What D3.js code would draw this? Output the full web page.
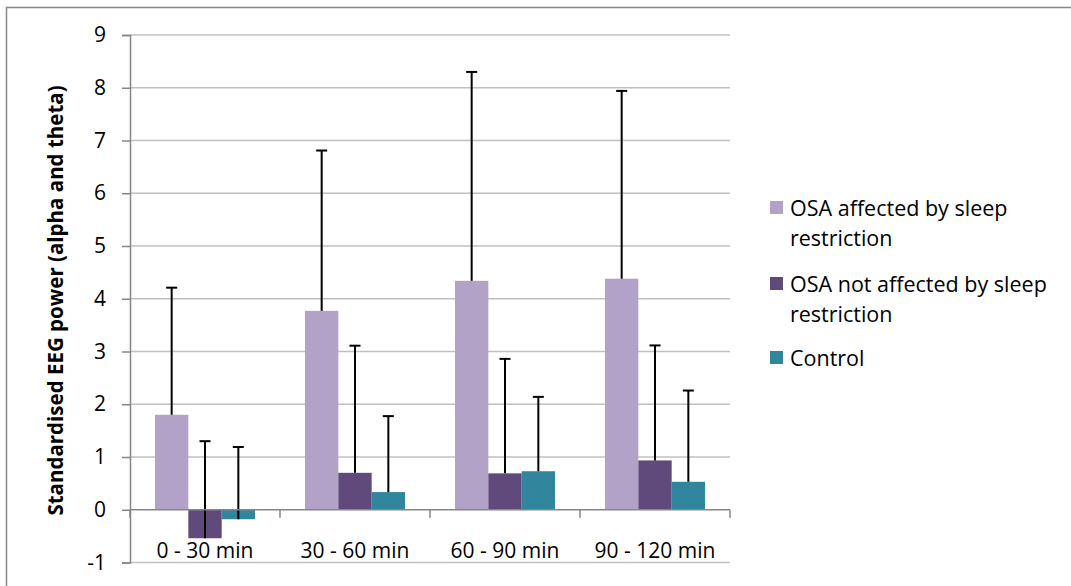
<!DOCTYPE html>
<html><head><meta charset="utf-8">
<script src="https://cdn.jsdelivr.net/npm/d3@7"></script>
<style>body{margin:0;background:#fff}svg{display:block}</style>
</head><body>
<script>
const categories = ["0 - 30 min", "30 - 60 min", "60 - 90 min", "90 - 120 min"];
const seriesNames = ["OSA affected by sleep restriction", "OSA not affected by sleep restriction", "Control"];
const osaAffected = [1.80, 3.77, 4.34, 4.38];
const osaNotAffected = [-0.54, 0.70, 0.69, 0.935];
const control = [-0.18, 0.335, 0.73, 0.53];
const errAffected = [2.41, 3.04, 3.96, 3.56];
const errNotAffected = [1.84, 2.41, 2.17, 2.18];
const errControl = [1.37, 1.44, 1.41, 1.73];
const yTicks = [-1, 0, 1, 2, 3, 4, 5, 6, 7, 8, 9];
const colors = ["#B3A2C7", "#604A7B", "#31859C"];

const series = [
  {name: seriesNames[0], values: osaAffected, errs: errAffected},
  {name: seriesNames[1], values: osaNotAffected, errs: errNotAffected},
  {name: seriesNames[2], values: control, errs: errControl}
];

const W = 1071, H = 586;
const svg = d3.select("body").append("svg").attr("width", W).attr("height", H);
const font = "'Open Sans', sans-serif";

// outer chart border
svg.append("rect").attr("x", 6.5).attr("y", 7.5).attr("width", W + 20).attr("height", H + 20)
  .attr("fill", "none").attr("stroke", "#868686").attr("stroke-width", 1.5);

const pLeft = 130, pRight = 730, pTop = 35, pBottom = 562.5;
const y = d3.scaleLinear().domain([-1, 9]).range([pBottom, pTop]);
const x0 = d3.scaleBand().domain(categories).range([pLeft, pRight]).paddingInner(0).paddingOuter(0);
const x1 = d3.scaleBand().domain(seriesNames).range([0, x0.bandwidth()]).paddingOuter(0.75).paddingInner(0);

// gridlines
svg.append("g").selectAll("line").data(yTicks.filter(d => d !== 0)).join("line")
  .attr("x1", pLeft).attr("x2", pRight).attr("y1", d => y(d)).attr("y2", d => y(d))
  .attr("stroke", "#C0C0C0").attr("stroke-width", 1.5);

// y axis
const yAxis = svg.append("g").attr("transform", `translate(${pLeft},0)`)
  .call(d3.axisLeft(y).tickValues(yTicks).tickSize(8).tickPadding(16).tickFormat(d => String(d)));
yAxis.select(".domain").attr("stroke", "#868686").attr("stroke-width", 1.5);
yAxis.selectAll(".tick line").attr("stroke", "#868686").attr("stroke-width", 1.5);
yAxis.selectAll(".tick text").attr("font-family", font).attr("font-size", 21).attr("fill", "#000");

// bars
const groups = svg.append("g").selectAll("g").data(categories).join("g")
  .attr("transform", d => `translate(${x0(d)},0)`);
groups.each(function(cat, ci) {
  const g = d3.select(this);
  series.forEach((s, si) => {
    const v = s.values[ci];
    g.append("rect")
      .attr("x", x1(s.name)).attr("width", x1.bandwidth())
      .attr("y", y(Math.max(0, v))).attr("height", Math.abs(y(v) - y(0)))
      .attr("fill", colors[si]);
  });
  series.forEach((s, si) => {
    const v = s.values[ci], e = s.errs[ci];
    const cx = x1(s.name) + x1.bandwidth() / 2;
    g.append("line").attr("x1", cx).attr("x2", cx).attr("y1", y(v)).attr("y2", y(v + e))
      .attr("stroke", "#000").attr("stroke-width", 2);
    g.append("line").attr("x1", cx - 5.5).attr("x2", cx + 5.5).attr("y1", y(v + e)).attr("y2", y(v + e))
      .attr("stroke", "#000").attr("stroke-width", 2);
  });
});

// x axis at zero
const xAxisG = svg.append("g").attr("transform", `translate(0,${y(0)})`);
xAxisG.append("line").attr("x1", pLeft).attr("x2", pRight).attr("stroke", "#868686").attr("stroke-width", 1.5);
const bounds = categories.map(c => x0(c)).concat([pRight]);
xAxisG.selectAll("line.tk").data(bounds).join("line").attr("class", "tk")
  .attr("x1", d => d).attr("x2", d => d).attr("y1", 0).attr("y2", 8)
  .attr("stroke", "#868686").attr("stroke-width", 1.5);
svg.append("g").selectAll("text").data(categories).join("text")
  .attr("x", d => x0(d) + x0.bandwidth() / 2).attr("y", 558)
  .attr("text-anchor", "middle").attr("font-family", font).attr("font-size", 21).attr("fill", "#000")
  .text(d => d);

// y title
svg.append("text").attr("transform", `translate(63,300.5) rotate(-90)`)
  .attr("text-anchor", "middle").attr("font-family", font).attr("font-weight", "bold")
  .attr("font-size", 20.5).attr("fill", "#000")
  .text("Standardised EEG power (alpha and theta)");

// legend
const legendLines = [["OSA affected by sleep", "restriction"], ["OSA not affected by sleep", "restriction"], ["Control"]];
const legendY = [208, 284, 358];
const lg = svg.append("g");
legendLines.forEach((lines, i) => {
  lg.append("rect").attr("x", 770).attr("y", legendY[i] - 7).attr("width", 13).attr("height", 13).attr("fill", colors[i]);
  lines.forEach((t, j) => {
    lg.append("text").attr("x", 790).attr("y", legendY[i] + j * 30).attr("dy", "0.35em")
      .attr("font-family", font).attr("font-size", 21.5).attr("fill", "#000").text(t);
  });
});
</script>
</body></html>
